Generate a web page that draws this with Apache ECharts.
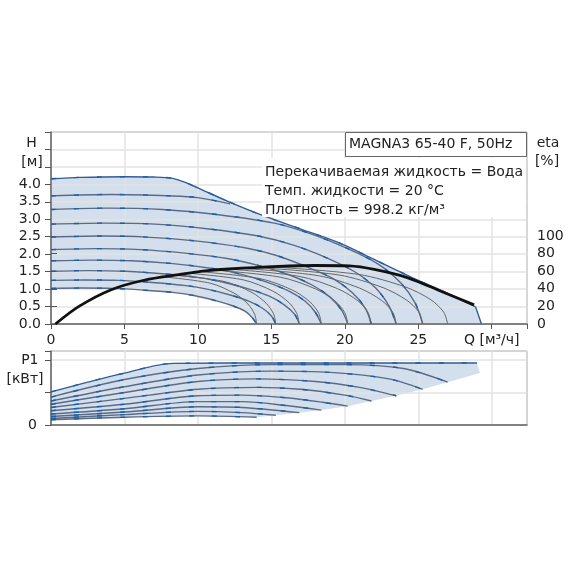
<!DOCTYPE html>
<html><head><meta charset="utf-8">
<script src="https://cdn.jsdelivr.net/npm/echarts@6/dist/echarts.min.js"></script>
<style>html,body{margin:0;padding:0;background:#fff}#c{width:570px;height:570px}</style>
</head><body><div id="c"></div>
<script>
// ---------- DATA ----------
const qTicksLabel = [0, 5, 10, 15, 20, 25];
const qAxisName = 'Q [м³/ч]';
// Head curves [Q m3/h, H m]
const hMax = [[0,4.16],[2,4.2],[5,4.22],[7,4.21],[8.2,4.18],[9,4.08],[10,3.9],[12,3.52],[14.4,3.11],[17,2.72],[19.7,2.31],[22,1.85],[25,1.25],[27,0.88],[28.9,0.49]];
const hMaxTail = [[28.9,0.49],[29.3,0]];
const h2 = [[0,3.67],[4.1,3.71],[8.1,3.67],[10,3.62],[12.2,3.44]];
const h3 = [[0,3.28],[3.8,3.32],[7.6,3.28],[11.4,3.13],[15.2,2.89],[17.7,2.58],[20.2,2.16],[22.3,1.71],[23.8,1.18],[24.8,0.59],[25.3,0]];
const h4 = [[0,2.86],[3.5,2.89],[7.1,2.86],[10.6,2.73],[14.1,2.52],[16.5,2.26],[18.8,1.89],[20.7,1.49],[22.1,1.03],[23,0.52],[23.5,0]];
const h5 = [[0,2.49],[3.3,2.52],[6.5,2.49],[9.8,2.38],[13.1,2.19],[15.3,1.97],[17.4,1.64],[19.2,1.3],[20.5,0.9],[21.4,0.45],[21.8,0]];
const h6 = [[0,2.13],[3,2.16],[6.1,2.13],[9.1,2.03],[12.1,1.87],[14.1,1.68],[16.2,1.41],[17.8,1.11],[19,0.77],[19.8,0.38],[20.2,0]];
const h7 = [[0,1.81],[2.8,1.83],[5.5,1.81],[8.3,1.73],[11,1.59],[12.9,1.43],[14.7,1.2],[16.2,0.94],[17.3,0.65],[18,0.33],[18.4,0]];
const h8 = [[0,1.51],[2.5,1.53],[5.1,1.51],[7.6,1.44],[10.1,1.33],[11.8,1.19],[13.5,1.0],[14.9,0.79],[15.9,0.54],[16.6,0.27],[16.9,0]];
const h9 = [[0,1.25],[2.3,1.26],[4.6,1.25],[6.9,1.19],[9.2,1.1],[10.7,0.99],[12.2,0.83],[13.5,0.65],[14.4,0.45],[15,0.23],[15.3,0]];
const hMin = [[0,1.02],[2.1,1.03],[4.2,1.02],[6.3,0.97],[8.4,0.9],[9.8,0.81],[11.2,0.67],[12.3,0.53],[13.2,0.37],[13.7,0.18],[14,0]];
// Efficiency curves [Q, eta %]
const etaMax = [[0.3,0],[1.9,20],[4.1,39],[6.4,50],[8.7,56],[10.3,60],[12.1,62.5],[15.5,65.5],[18,66.5],[20.3,66],[22,62],[24.3,52.5],[26.5,37.5],[28.8,21.7]];
const eta2 = [[14.9,65],[20.95,56.3],[24.17,41.8],[25.86,27.5],[26.73,13.5],[27,0]];
const eta3 = [[13.9,64.3],[19.6,55.7],[22.6,41.3],[24.2,27.2],[25.05,13.4],[25.3,0]];
const eta4 = [[12.9,63.4],[18.2,54.9],[21,40.8],[22.5,26.8],[23.27,13.2],[23.5,0]];
const eta5 = [[12,62.5],[16.9,54.1],[19.5,40.2],[20.88,26.4],[21.58,13],[21.8,0]];
const eta6 = [[11.1,61.3],[15.65,53.1],[18.07,39.4],[19.35,25.9],[20,12.8],[20.2,0]];
const eta7 = [[10.1,59.5],[14.25,51.5],[16.46,38.3],[17.62,25.2],[18.22,12.4],[18.4,0]];
const eta8 = [[9.3,57.8],[13.1,50.1],[15.12,37.2],[16.19,24.4],[16.73,12],[16.9,0]];
const eta9 = [[8.4,55.5],[11.85,48.1],[13.69,35.7],[14.65,23.5],[15.15,11.5],[15.3,0]];
const etaMin = [[7.7,53.5],[10.85,46.3],[12.53,34.4],[13.41,22.6],[13.86,11.1],[14,0]];
// Power curves [Q, P1 kW]
const pMax = [[0,0.51],[2.5,0.66],[5,0.8],[8.3,0.95],[15,0.955],[22,0.955],[29,0.955]];
const pMaxTail = [[29,0.955],[29.2,0.8]];
const p2 = [[0,0.43],[5,0.7],[10,0.87],[15,0.93],[20,0.93],[24,0.87],[27,0.66]];
const p3 = [[0,0.37],[5,0.59],[10,0.77],[15,0.83],[19,0.81],[23,0.71],[25.3,0.55]];
const p4 = [[0,0.32],[5,0.5],[10,0.67],[14,0.71],[18,0.67],[21,0.58],[23.5,0.45]];
const p5 = [[0,0.27],[5,0.41],[10,0.55],[14,0.58],[17,0.55],[20,0.46],[21.8,0.37]];
const p6 = [[0,0.22],[5,0.32],[10,0.45],[13,0.46],[16,0.42],[18.5,0.35],[20.2,0.29]];
const p7 = [[0,0.17],[5,0.25],[10,0.36],[13,0.36],[16,0.3],[18.4,0.23]];
const p8 = [[0,0.13],[5,0.2],[10,0.28],[13,0.27],[16.9,0.19]];
const p9 = [[0,0.1],[5,0.16],[10,0.21],[13,0.19],[15.3,0.15]];
const pMin = [[0,0.08],[5,0.12],[10,0.14],[14,0.12]];

const infoTitle = 'MAGNA3 65-40 F, 50Hz';
const infoLines = ['Перекачиваемая жидкость = Вода', 'Темп. жидкости = 20 °C', 'Плотность = 998.2 кг/м³'];

// ---------- CHART ----------
const FONT = '"DejaVu Sans", sans-serif';
const FS = 14;
const TXT = '#222';
const FILL = '#d3dfec';
const BASE = '#5a6b88';
const DASH = '#1d5fa6';
const hHead = [hMax, h2, h3, h4, h5, h6, h7, h8, h9, hMin];
const pAll = [pMax, p2, p3, p4, p5, p6, p7, p8, p9, pMin];
const etaArcs = [eta2, eta3, eta4, eta5, eta6, eta7, eta8, eta9, etaMin];

function poly(xi, yi, pts, color, z) {
  return { type: 'custom', xAxisIndex: xi, yAxisIndex: yi, z: z, silent: true, clip: false,
    data: [[0, 0]],
    renderItem: function (params, api) {
      return { type: 'polygon', shape: { points: pts.map(p => api.coord(p)) }, style: { fill: color } };
    } };
}
function line(xi, yi, pts, color, width, type, z) {
  return { type: 'line', xAxisIndex: xi, yAxisIndex: yi, data: pts, showSymbol: false, symbol: 'none',
    smooth: 0.3, silent: true, z: z,
    lineStyle: { color: color, width: width, type: type || 'solid' } };
}

const hFillPts = hMax.concat(hMaxTail.slice(1)).concat(hMin.slice().reverse());
const pEnds = pAll.slice(1).map(c => c[c.length - 1]);
const pFillPts = pMax.concat(pMaxTail.slice(1)).concat(pEnds).concat(pMin.slice(0, -1).reverse());

const series = [];
series.push(poly(0, 0, hFillPts, FILL, 1));
series.push(poly(2, 2, pFillPts, FILL, 1));
hHead.forEach((c, i) => {
  series.push(line(0, 0, c, i === 0 ? '#2f5d96' : BASE, 1.4, 'solid', 3));
  series.push(line(0, 0, c, DASH, 1.4, [5, 18], 4));
});
series.push(line(0, 0, hMaxTail, '#2f5d96', 1.4, 'solid', 3));
etaArcs.forEach(c => series.push(line(1, 1, c, '#666', 1, 'solid', 5)));
series.push(line(1, 1, etaMax, '#111', 2.8, 'solid', 6));
pAll.forEach((c, i) => {
  series.push(line(2, 2, c, i === 0 ? '#2f5d96' : BASE, 1.4, 'solid', 3));
  series.push(line(2, 2, c, DASH, 1.4, [5, 18], 4));
});

const gridLine = { show: true, lineStyle: { color: '#e3e3e3', width: 1.5 } };
const xCommon = { type: 'value', min: 0, max: 32.4, interval: 5, z: 2 };
const lbl = { fontSize: FS, color: TXT, fontFamily: FONT };
const option = {
  animation: false,
  backgroundColor: '#fff',
  textStyle: { fontFamily: FONT },
  grid: [
    { left: 51, top: 132, width: 476, height: 192, show: true, borderColor: '#666', borderWidth: 1, z: 2 },
    { left: 51, top: 236, width: 476, height: 88 },
    { left: 51, top: 351, width: 476, height: 74, show: true, borderColor: '#555', borderWidth: 1, z: 2 }
  ],
  xAxis: [
    Object.assign({}, xCommon, { gridIndex: 0,
      axisLine: { show: true, lineStyle: { color: '#666', width: 1.5 } },
      axisTick: { show: true, length: 5, lineStyle: { color: '#555' } },
      axisLabel: Object.assign({ margin: 9,
        formatter: v => (v === 30 ? qAxisName : (qTicksLabel.indexOf(v) >= 0 ? String(v) : '')) }, lbl),
      splitLine: gridLine }),
    Object.assign({}, xCommon, { gridIndex: 1, show: false }),
    Object.assign({}, xCommon, { gridIndex: 2,
      axisLine: { show: true, lineStyle: { color: '#666', width: 1.5 } },
      axisTick: { show: false }, axisLabel: { show: false }, splitLine: gridLine })
  ],
  yAxis: [
    { gridIndex: 0, type: 'value', min: 0, max: 5.5, interval: 0.5, z: 2,
      axisLine: { show: true, lineStyle: { color: '#666', width: 1.5 } },
      axisTick: { show: true, length: 6, lineStyle: { color: '#555' } },
      axisLabel: Object.assign({ margin: 10, formatter: v => (v <= 4.001 ? v.toFixed(1) : '') }, lbl),
      splitLine: gridLine },
    { gridIndex: 1, type: 'value', min: 0, max: 100, interval: 20, position: 'right', z: 2,
      axisLine: { show: false },
      axisTick: { show: true, length: 6, lineStyle: { color: '#555' } },
      axisLabel: Object.assign({ margin: 10 }, lbl),
      splitLine: { show: false } },
    { gridIndex: 2, type: 'value', min: 0, max: 1.14, interval: 0.5, z: 2,
      axisLine: { show: true, lineStyle: { color: '#666', width: 1.5 } },
      axisTick: { show: true, length: 6, lineStyle: { color: '#555' } },
      axisLabel: Object.assign({ margin: 14, formatter: v => (v === 0 ? '0' : '') }, lbl),
      splitLine: gridLine }
  ],
  graphic: [
    { type: 'rect', z: 100, shape: { x: 262, y: 158, width: 264, height: 59 }, style: { fill: '#fff' } },
    { type: 'rect', z: 101, shape: { x: 345.5, y: 132.5, width: 181, height: 24 }, style: { fill: '#fff', stroke: '#666', lineWidth: 1 } },
    { type: 'text', z: 102, x: 349, y: 144.5, style: { text: infoTitle, font: FS + 'px ' + FONT, fill: TXT, textVerticalAlign: 'middle' } },
    { type: 'text', z: 102, x: 265, y: 172, style: { text: infoLines[0], font: FS + 'px ' + FONT, fill: TXT, textVerticalAlign: 'middle' } },
    { type: 'text', z: 102, x: 265, y: 191.5, style: { text: infoLines[1], font: FS + 'px ' + FONT, fill: TXT, textVerticalAlign: 'middle' } },
    { type: 'text', z: 102, x: 265, y: 210, style: { text: infoLines[2], font: FS + 'px ' + FONT, fill: TXT, textVerticalAlign: 'middle' } },
    { type: 'text', z: 102, x: 31.5, y: 143, style: { text: 'H', font: FS + 'px ' + FONT, fill: TXT, textAlign: 'center', textVerticalAlign: 'middle' } },
    { type: 'text', z: 102, x: 32, y: 162, style: { text: '[м]', font: FS + 'px ' + FONT, fill: TXT, textAlign: 'center', textVerticalAlign: 'middle' } },
    { type: 'text', z: 102, x: 548, y: 143, style: { text: 'eta', font: FS + 'px ' + FONT, fill: TXT, textAlign: 'center', textVerticalAlign: 'middle' } },
    { type: 'text', z: 102, x: 547, y: 161, style: { text: '[%]', font: FS + 'px ' + FONT, fill: TXT, textAlign: 'center', textVerticalAlign: 'middle' } },
    { type: 'text', z: 102, x: 38.5, y: 360.5, style: { text: 'P1', font: FS + 'px ' + FONT, fill: TXT, textAlign: 'right', textVerticalAlign: 'middle' } },
    { type: 'text', z: 102, x: 25, y: 379.5, style: { text: '[кВт]', font: FS + 'px ' + FONT, fill: TXT, textAlign: 'center', textVerticalAlign: 'middle' } }
  ],
  series: series
};
const chart = echarts.init(document.getElementById('c'), null, { renderer: 'canvas' });
chart.setOption(option);
</script></body></html>
